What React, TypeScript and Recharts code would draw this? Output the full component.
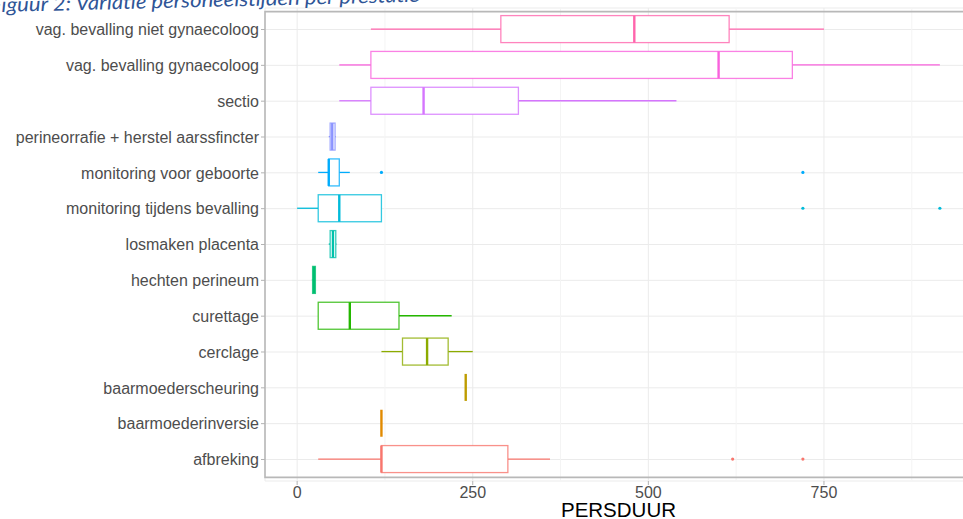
import React from "react";
import { ComposedChart, Bar, XAxis, YAxis, CartesianGrid, ReferenceArea } from "recharts";

const categories = [
    "vag. bevalling niet gynaecoloog",
    "vag. bevalling gynaecoloog",
    "sectio",
    "perineorrafie + herstel aarssfincter",
    "monitoring voor geboorte",
    "monitoring tijdens bevalling",
    "losmaken placenta",
    "hechten perineum",
    "curettage",
    "cerclage",
    "baarmoederscheuring",
    "baarmoederinversie",
    "afbreking"
];
const whiskerLow = [105, 60, 60, 45, 30, 0, 45, 21, 30, 120, 240, 120, 30];
const quartile1 = [290, 105, 105, 47, 45, 30, 47, 22, 30, 150, 240, 120, 120];
const medians = [480, 600, 180, 50, 45, 60, 51, 24, 75, 185, 240, 120, 120];
const quartile3 = [615, 705, 315, 54, 60, 120, 55, 26, 145, 215, 240, 120, 300];
const whiskerHigh = [750, 915, 540, 55, 75, 120, 56, 26, 220, 250, 240, 120, 360];
const outliers: number[][] = [[], [], [], [], [120, 720], [720, 915], [], [], [], [], [], [], [620, 720]];

const majorTicks = [0, 250, 500, 750];
const minorTicks = [125, 375, 625, 875];

// ggplot hue palette, top row to bottom row
const colors = [
    "#FF65AC", "#F962DD", "#D575FE", "#8B93FF", "#00ACFC", "#00BBDA", "#00C1AB",
    "#00BE70", "#24B700", "#8CAB00", "#BE9C00", "#E18A00", "#F8766D"
];

const rows = categories.map((name, i) => ({
    name,
    lo: whiskerLow[i],
    q1: quartile1[i],
    med: medians[i],
    q3: quartile3[i],
    hi: whiskerHigh[i],
    out: outliers[i]
}));

// same 5% expansion ggplot uses
const allValues = [...whiskerLow, ...whiskerHigh, ...outliers.flat()];
const vMin = Math.min(...allValues);
const vMax = Math.max(...allValues);
const pad = (vMax - vMin) * 0.05;
const domain: [number, number] = [vMin - pad, vMax + pad];
const allTicks = [...majorTicks, ...minorTicks].sort((a, b) => a - b);

const BoxShape = (props: any) => {
    const { x, y, width, height, payload, index } = props;
    const c = colors[index];
    const span = payload.hi - payload.lo;
    const toX = (v: number) => (span === 0 ? x : x + ((v - payload.lo) / span) * width);
    const cy = y + height / 2;
    const xq1 = toX(payload.q1);
    const xq3 = toX(payload.q3);
    const xm = toX(payload.med);
    return (
        <g>
            <line x1={toX(payload.lo)} x2={xq1} y1={cy} y2={cy} stroke={c} strokeWidth={1.3} />
            <line x1={xq3} x2={toX(payload.hi)} y1={cy} y2={cy} stroke={c} strokeWidth={1.3} />
            <rect x={xq1} y={y} width={xq3 - xq1} height={height} fill="#fff" stroke={c} strokeWidth={1.3} strokeOpacity={0.8} />
            <line x1={xm} x2={xm} y1={y} y2={y + height} stroke={c} strokeWidth={2.4} />
            {payload.out.map((v: number, k: number) => (
                <circle key={k} cx={toX(v)} cy={cy} r={1.6} fill={c} />
            ))}
        </g>
    );
};

const XTick = (props: any) => {
    const { x, y, payload } = props;
    if (!majorTicks.includes(payload.value)) return null;
    return (
        <g>
            <line x1={x} x2={x} y1={y - 5} y2={y - 1} stroke="#B3B3B3" />
            <text x={x} y={y} dy={11.5} textAnchor="middle" fill="#4D4D4D" fontSize={16}>
                {payload.value}
            </text>
        </g>
    );
};

const gridLine = (p: any) => {
    const minor = p.index !== undefined && p.index % 2 === 1;
    return (
        <line
            key={p.key}
            x1={p.x1}
            x2={p.x2}
            y1={p.y1}
            y2={p.y2}
            stroke={minor ? "#F4F4F4" : "#EBEBEB"}
            strokeWidth={1}
        />
    );
};

export default function App() {
    return (
        <div
            style={{
                position: "absolute",
                left: 0,
                top: 0,
                width: 963,
                height: 519,
                overflow: "hidden",
                background: "#fff",
                fontFamily: "'Liberation Sans', Arial, sans-serif"
            }}
        >
            <ComposedChart
                layout="vertical"
                width={990}
                height={519}
                data={rows}
                margin={{ top: 8, right: 18, bottom: 0, left: 0 }}
            >
                <CartesianGrid stroke="#EBEBEB" vertical={gridLine} horizontal />
                <XAxis
                    type="number"
                    domain={domain}
                    ticks={allTicks}
                    interval={0}
                    allowDataOverflow
                    tick={<XTick />}
                    tickLine={false}
                    axisLine={false}
                    tickSize={4}
                    tickMargin={1}
                    height={38}
                    label={{ value: "PERSDUUR", position: "insideBottom", offset: 2, fill: "#000", fontSize: 20.5 }}
                />
                <YAxis
                    type="category"
                    dataKey="name"
                    width={265}
                    interval={0}
                    axisLine={false}
                    tickLine={{ stroke: "#B3B3B3" }}
                    tickSize={4}
                    tickMargin={2}
                    tick={{ fill: "#4D4D4D", fontSize: 16 }}
                    padding={{ top: 3.6, bottom: 3.6 }}
                />
                <ReferenceArea x1={domain[0]} x2={domain[1]} fill="none" stroke="#B8B8B8" strokeWidth={1.6} />
                <Bar dataKey={(d: any) => [d.lo, d.hi]} barSize={27} shape={BoxShape} isAnimationActive={false} />
            </ComposedChart>
            <svg width={963} height={24} style={{ position: "absolute", left: 0, top: 0, pointerEvents: "none" }}>
                <text
                    x={-10}
                    y={12}
                    transform="rotate(-1.4 0 12)"
                    fontFamily="Lato, 'Open Sans', sans-serif"
                    fontStyle="italic"
                    fontSize={20}
                    fill="#2F5597"
                    textLength={430}
                    lengthAdjust="spacingAndGlyphs"
                >
                    Figuur 2: Variatie personeelstijden per prestatie
                </text>
            </svg>
        </div>
    );
}
